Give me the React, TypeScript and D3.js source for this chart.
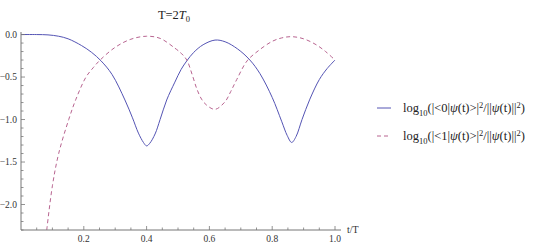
import * as d3 from 'd3'

// t/T sample positions and log10 populations
const tBlue = [0, 0.05, 0.086, 0.12, 0.15, 0.193, 0.225, 0.255, 0.29, 0.331, 0.355, 0.374, 0.39, 0.4, 0.41, 0.427, 0.443, 0.464, 0.49, 0.51, 0.528, 0.55, 0.58, 0.618, 0.65, 0.69, 0.729, 0.761, 0.8, 0.83, 0.848, 0.862, 0.876, 0.895, 0.92, 0.95, 0.975, 1.0]
const vBlue = [0, 0, -0.004, -0.02, -0.05, -0.13, -0.21, -0.31, -0.47, -0.77, -0.98, -1.16, -1.27, -1.31, -1.28, -1.17, -1.0, -0.77, -0.56, -0.41, -0.31, -0.21, -0.12, -0.065, -0.085, -0.17, -0.3, -0.46, -0.74, -1.02, -1.19, -1.27, -1.2, -1.0, -0.76, -0.53, -0.4, -0.3]

const tRed = [0.082, 0.1, 0.12, 0.152, 0.175, 0.207, 0.23, 0.252, 0.3, 0.35, 0.4, 0.443, 0.49, 0.51, 0.528, 0.545, 0.56, 0.575, 0.591, 0.618, 0.65, 0.668, 0.687, 0.72, 0.756, 0.8, 0.83, 0.862, 0.9, 0.94, 0.97, 1.0]
const vRed = [-2.3, -1.78, -1.4, -1.0, -0.76, -0.5, -0.39, -0.3, -0.15, -0.055, -0.02, -0.045, -0.16, -0.22, -0.3, -0.47, -0.64, -0.76, -0.83, -0.88, -0.79, -0.67, -0.53, -0.31, -0.19, -0.08, -0.04, -0.025, -0.05, -0.12, -0.2, -0.3]

const xLabelTicks = [0.2, 0.4, 0.6, 0.8, 1.0]
const yLabelTicks = [0, -0.5, -1.0, -1.5, -2.0]

const BLUE = '#5454b4'
const RED = '#b86490'
const AXIS = '#777'
const FONT = 'Liberation Serif, DejaVu Serif, serif'

export default function App() {
  const W = 545
  const H = 245
  const x = d3.scaleLinear().domain([0, 1]).range([21, 335])
  const y = d3.scaleLinear().domain([-2.3, 0.03]).range([230, 32])

  const line = d3
    .line<[number, number]>()
    .x((d) => x(d[0]))
    .y((d) => y(d[1]))
    .curve(d3.curveCatmullRom.alpha(0.5))

  const blue = tBlue.map((t, i) => [t, vBlue[i]] as [number, number])
  const red = tRed.map((t, i) => [t, vRed[i]] as [number, number])

  const fmt = (v: number) => (v < 0 ? '\u2212' : '') + Math.abs(v).toFixed(1)
  const isMajor = (v: number, arr: number[]) => arr.some((a) => Math.abs(a - v) < 1e-6)

  const xTicks = x.ticks(20).filter((t) => t > 0)
  const yTicks = y.ticks(25)

  const legendText = (n: string) => (
    <>
      log
      <tspan fontSize={8.5} dy={3.5}>10</tspan>
      <tspan dy={-3.5}>(|&lt;{n}|</tspan>
      <tspan fontStyle="italic">ψ</tspan>
      <tspan>(t)&gt;|</tspan>
      <tspan fontSize={8.5} dy={-4.5}>2</tspan>
      <tspan dy={4.5}>/||</tspan>
      <tspan fontStyle="italic">ψ</tspan>
      <tspan>(t)||</tspan>
      <tspan fontSize={8.5} dy={-4.5}>2</tspan>
      <tspan dy={4.5}>)</tspan>
    </>
  )

  return (
    <svg width={W} height={H} fontFamily={FONT} style={{ position: 'absolute', left: 0, top: 0, background: '#fff' }}>
      {/* title */}
      <text x={174} y={19} fontSize={12.5} textAnchor="middle" fill="#222">
        T=2<tspan fontStyle="italic">T</tspan>
        <tspan fontSize={8.5} dy={2.5}>0</tspan>
      </text>

      {/* curves */}
      <path d={line(blue) ?? ''} fill="none" stroke={BLUE} strokeWidth={1} />
      <path d={line(red) ?? ''} fill="none" stroke={RED} strokeWidth={1} strokeDasharray="4,3" />

      {/* axes */}
      <line x1={x(0)} x2={341} y1={y(-2.3)} y2={y(-2.3)} stroke={AXIS} strokeWidth={1} />
      <line x1={x(0)} x2={x(0)} y1={y(0.03)} y2={y(-2.3)} stroke={AXIS} strokeWidth={1} />

      {xTicks.map((t) => {
        const major = isMajor(t, xLabelTicks)
        return (
          <line key={'xt' + t} x1={x(t)} x2={x(t)} y1={y(-2.3)} y2={y(-2.3) - (major ? 4 : 2.5)} stroke={AXIS} strokeWidth={0.8} />
        )
      })}
      {yTicks.map((t) => {
        const major = isMajor(t, yLabelTicks)
        return (
          <line key={'yt' + t} x1={x(0)} x2={x(0) + (major ? 4 : 2.5)} y1={y(t)} y2={y(t)} stroke={AXIS} strokeWidth={0.8} />
        )
      })}

      {xLabelTicks.map((t) => (
        <text key={'xl' + t} x={x(t)} y={242} fontSize={9.5} textAnchor="middle" fill="#333">
          {t.toFixed(1)}
        </text>
      ))}
      {yLabelTicks.map((t) => (
        <text key={'yl' + t} x={17} y={y(t) + 3} fontSize={9.5} textAnchor="end" fill="#333">
          {fmt(t)}
        </text>
      ))}

      <text x={347} y={233} fontSize={10} fill="#333">t/T</text>

      {/* legend */}
      <line x1={377} x2={391} y1={108} y2={108} stroke={BLUE} strokeWidth={1} />
      <text x={403} y={112} fontSize={12.5} fill="#222">{legendText('0')}</text>
      <line x1={377} x2={391} y1={136} y2={136} stroke={RED} strokeWidth={1} strokeDasharray="4,3" />
      <text x={403} y={140} fontSize={12.5} fill="#222">{legendText('1')}</text>
    </svg>
  )
}
